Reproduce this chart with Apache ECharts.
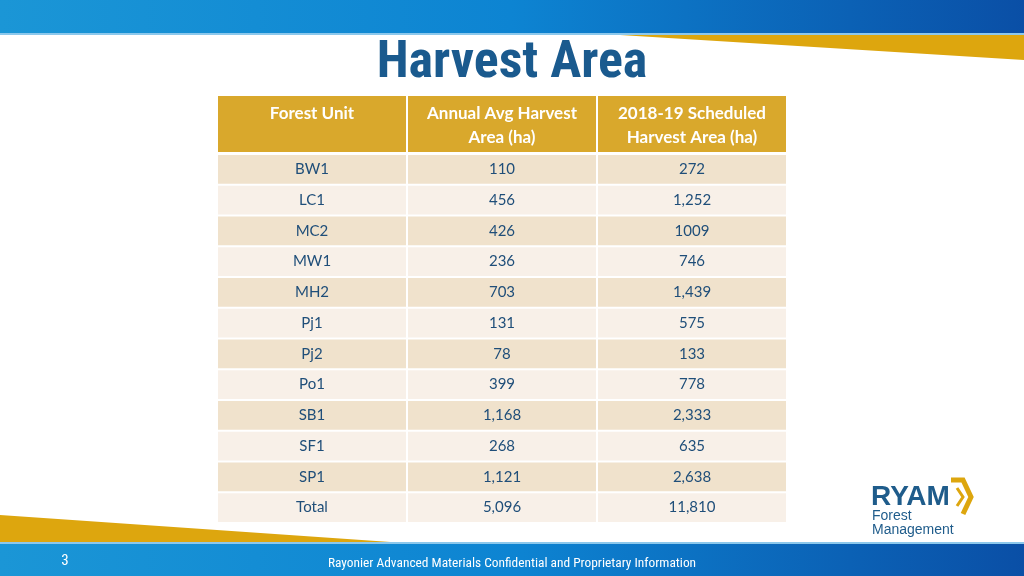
<!DOCTYPE html>
<html><head><meta charset="utf-8">
<script src="https://cdn.jsdelivr.net/npm/echarts@6/dist/echarts.min.js"></script>
<style>html,body{margin:0;padding:0;background:#fff}#c{width:1024px;height:576px}</style>
</head><body><div id="c"></div>
<script>
const columns = ['Forest Unit', 'Annual Avg Harvest\nArea (ha)', '2018-19 Scheduled\nHarvest Area (ha)'];
const units = ['BW1','LC1','MC2','MW1','MH2','Pj1','Pj2','Po1','SB1','SF1','SP1','Total'];
const annualAvg = ['110','456','426','236','703','131','78','399','1,168','268','1,121','5,096'];
const scheduled = ['272','1,252','1009','746','1,439','575','133','778','2,333','635','2,638','11,810'];

const bodyData = [];
const bodyText = [];
units.forEach((u, i) => {
  [u, annualAvg[i], scheduled[i]].forEach((t, c) => { bodyData.push([c, i]); bodyText.push(t); });
});
const headData = columns.map((c, i) => [i, 0]);
const headText = columns.slice();

const chart = echarts.init(document.getElementById('c'));
const TXT = '#1F4E79';
function cellRenderer(isHead, texts) {
  return function (params, api) {
    const col = api.value(0), row = api.value(1);
    const p = api.coord([col, row]);
    const s = api.size([1, 1]);
    const w = s[0], h = s[1];
    const fill = isHead ? '#D9A82C' : (row % 2 === 0 ? '#F0E2CC' : '#F8F0E8');
    return {
      type: 'group',
      children: [
        { type: 'rect', shape: { x: p[0] - w / 2 + 1, y: p[1] - h / 2 + 1, width: w - 2, height: h - 2 }, style: { fill: fill } },
        { type: 'text', style: isHead ? {
            x: p[0], y: p[1] - h / 2 + 7, text: texts[params.dataIndex], align: 'center', verticalAlign: 'top',
            fill: '#fff', font: 'bold 17px Lato, "Open Sans", sans-serif', lineHeight: 24 } : {
            x: p[0], y: p[1], text: texts[params.dataIndex], align: 'center', verticalAlign: 'middle',
            fill: TXT, font: '15px Lato, "Open Sans", sans-serif' } }
      ]
    };
  };
}

chart.setOption({
  animation: false,
  grid: [
    { left: 217, width: 570, top: 95, height: 58 },
    { left: 217, width: 570, top: 154, height: 369 }
  ],
  xAxis: [
    { type: 'category', data: columns, gridIndex: 0, show: false },
    { type: 'category', data: columns, gridIndex: 1, show: false }
  ],
  yAxis: [
    { type: 'category', data: ['head'], gridIndex: 0, inverse: true, show: false },
    { type: 'category', data: units, gridIndex: 1, inverse: true, show: false }
  ],
  series: [
    { type: 'custom', xAxisIndex: 0, yAxisIndex: 0, data: headData, renderItem: cellRenderer(true, headText) },
    { type: 'custom', xAxisIndex: 1, yAxisIndex: 1, data: bodyData, renderItem: cellRenderer(false, bodyText) }
  ],
  graphic: [
    { type: 'rect', shape: { x: 0, y: 0, width: 1024, height: 33 }, style: { fill: new echarts.graphic.LinearGradient(0, 0, 1, 0, [{ offset: 0, color: '#1B96D6' }, { offset: 0.5, color: '#0D84D2' }, { offset: 1, color: '#0A4FA6' }]) } },
    { type: 'rect', shape: { x: 0, y: 33, width: 1024, height: 2 }, style: { fill: '#8CC8EC' } },
    { type: 'polygon', shape: { points: [[620, 35], [1024, 35], [1024, 60]] }, style: { fill: '#DDA60E' } },
    { type: 'text', style: { x: 512, y: 64, text: 'Harvest Area', align: 'center', verticalAlign: 'middle', fill: '#1A5A8E', font: 'bold 52px "Roboto Condensed", Roboto, sans-serif' } },
    { type: 'polygon', shape: { points: [[0, 515], [0, 543], [405, 543]] }, style: { fill: '#DDA60E' } },
    { type: 'rect', shape: { x: 0, y: 543, width: 1024, height: 33 }, style: { fill: new echarts.graphic.LinearGradient(0, 0, 1, 0, [{ offset: 0, color: '#1B96D6' }, { offset: 0.5, color: '#0D84D2' }, { offset: 1, color: '#0A4FA6' }]) } },
    { type: 'rect', shape: { x: 0, y: 542, width: 1024, height: 2 }, style: { fill: '#8CC8EC' } },
    { type: 'text', style: { x: 65, y: 561, text: '3', align: 'center', verticalAlign: 'middle', fill: '#fff', font: '15px "Roboto Condensed", sans-serif' } },
    { type: 'text', style: { x: 512, y: 564, text: 'Rayonier Advanced Materials Confidential and Proprietary Information', align: 'center', verticalAlign: 'middle', fill: '#fff', font: '13.4px "Roboto Condensed", sans-serif' } },
    { type: 'text', style: { x: 871, y: 497, text: 'RYAM', align: 'left', verticalAlign: 'middle', fill: '#1F5C8B', font: '900 28px "Liberation Sans", Arial, sans-serif' } },
    { type: 'polyline', shape: { points: [[951, 480], [963, 480], [971, 497], [963, 514]] }, style: { stroke: '#DDA60E', lineWidth: 5, fill: null } },
    { type: 'polyline', shape: { points: [[957, 488], [963, 497], [957, 506]] }, style: { stroke: '#DDA60E', lineWidth: 3, fill: null } },
    { type: 'text', style: { x: 872, y: 516, text: 'Forest', align: 'left', verticalAlign: 'middle', fill: '#1F5C8B', font: '14px "Liberation Sans", Arial, sans-serif' } },
    { type: 'text', style: { x: 872, y: 530, text: 'Management', align: 'left', verticalAlign: 'middle', fill: '#1F5C8B', font: '14px "Liberation Sans", Arial, sans-serif' } }
  ]
});
</script></body></html>
